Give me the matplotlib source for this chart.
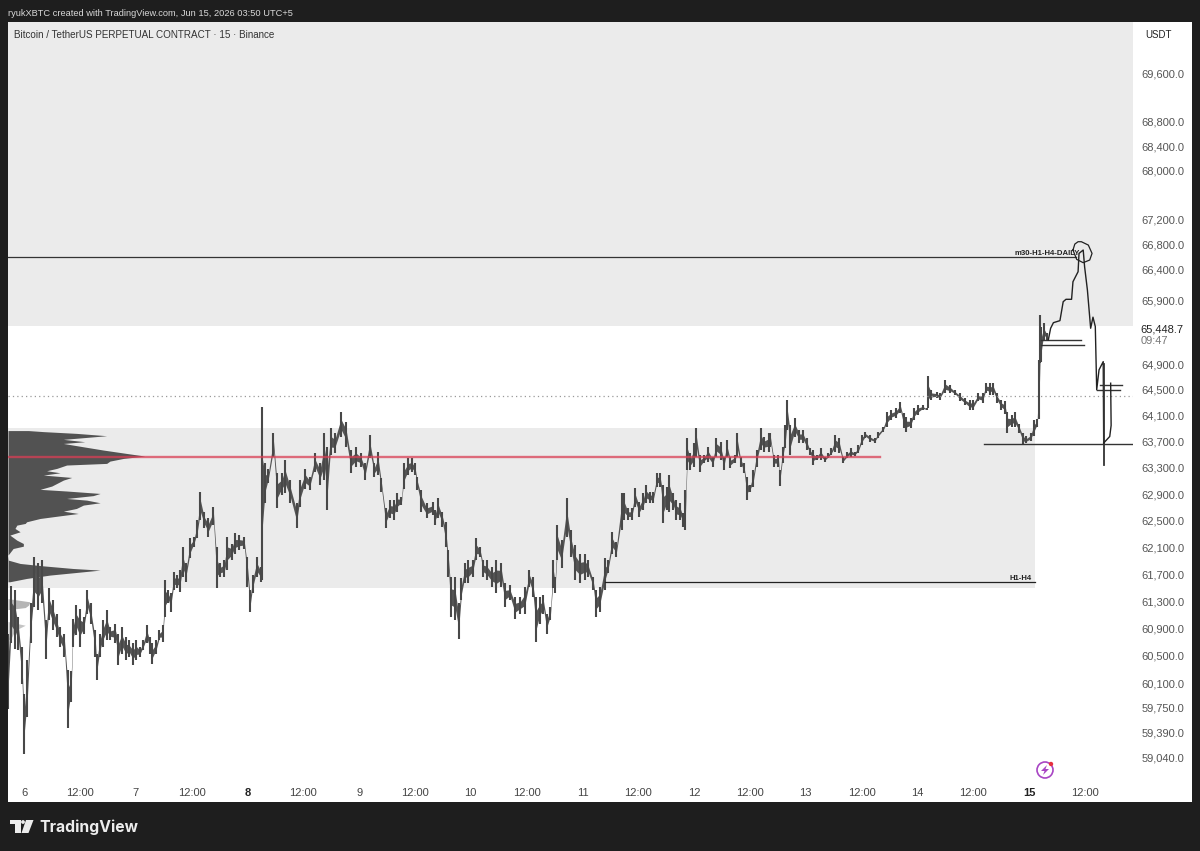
import matplotlib
matplotlib.use('Agg')
import matplotlib.pyplot as plt
from matplotlib.patches import Rectangle, Polygon, Circle
from matplotlib.ticker import NullLocator

plt.rcParams['font.family'] = ['Liberation Sans', 'DejaVu Sans']

# all times are hours after 00:00 on the 6th
bar_hour = [-3.4,-2.7,-1.9,-1.2,-0.5,0,0.7,1.4,2.2,3.1,3.8,4.7,5.3,6.2,7.0,7.7,8.7,9.5,10.1,10.5,11.2,12.0,12.8,13.6,14.3,15.3,15.6,16.3,17.0,17.8,18.5,19.6,20.3,21.0,21.9,22.6,23.4,24.1,24.9,25.6,26.4,27.1,27.6,28.4,29.1,29.8,30.3,31.0,31.5,32.2,32.8,33.5,34.1,34.8,35.7,36.5,37.2,37.9,38.7,39.6,40.7,41.4,42.1,43.0,43.6,44.6,45.3,46.3,47.3,48.0,48.6,49.1,50.0,50.9,51.2,51.8,52.5,53.6,54.4,55.4,56.1,57.2,58.6,59.3,
    60.4,61.4,62.5,63.6,64.5,65.2,65.9,66.8,68.1,69.2,70.2,71.3,72.4,73.3,74.3,75.3,76.1,76.8,77.7,78.6,79.5,80.2,81.1,81.6,82.6,83.3,84.0,84.5,85.4,86.5,87.8,88.3,89.0,89.9,90.6,91.2,91.7,92.6,93.4,94.0,94.7,95.5,96.4,97.2,98.0,98.7,99.4,100.5,101.5,102.6,103.3,104.4,105.5,106.6,107.6,108.6,109.3,110.1,110.8,111.6,112.3,113.1,113.7,114.1,114.6,115.5,116.6,117.5,118.4,119.4,120.5,121.2,122.3,122.9,123.7,124.8,125.5,126.4,127.3,
    128.4,128.9,129.8,130.6,131.3,132.2,133.1,133.6,134.5,135.2,136.0,136.7,137.4,138.1,138.7,139.5,140.2,141.0,141.7,142.1,142.5,143.2,144.0,144.5,145.2,146.1,147.0,148.0,148.8,149.7,150.4,151.0,151.8,152.8,153.3,154.0,154.7,155.3,156.0,156.7,157.4,158.3,159.0,160.0,160.4,161.1,162.1,162.4,163.0,163.6,164.0,164.7,165.6,166.6,167.4,168.2,168.9,169.6,170.3,171.2,172.1,172.8,173.5,174.3,175.2,176.0,176.9,177.6,178.5,179.3,180.0,180.8,181.8,182.8,183.5,184.6,185.5,186.4,187.3,188.3,189.0,189.6,190.5,191.2,192.1,193.1,194.0,194.3,195.0,196.1,196.8,197.9,199.0,200.0,
    201.1,202.2,203.2,204.0,205.0,206.0,206.7,207.5,208.3,209.1,210.0,210.8,211.3,212.2,212.9,213.8,214.7,215.4,216.3,217.0,217.7,218.1,218.4,218.6,219.1,219.9]
bar_high = [60820,61530,61465,61067,60625,59950,60430,61266,61958,61859,61908,61019,61490,61313,61116,60920,60820,60290,60270,61040,61240,61190,61067,61465,61266,60870,60530,60820,61019,61165,60920,60970,60820,60920,60772,60726,60680,60726,60625,60726,60945,60772,60680,60726,60870,60945,61612,61465,61417,61735,61686,61760,62107,61859,62232,62257,62508,62937,62633,62533,62709,62107,61859,61908,62257,62157,62307,62282,62257,61958,61465,61686,61958,61808,64240,63368,63290,63828,63216,63216,63420,63114,62759,63114,
    63290,63165,63520,63368,63828,63620,63905,63828,64163,64008,63572,63620,63520,63368,63803,63368,63546,63140,62684,62810,62810,62911,62860,63368,63444,63444,63368,63165,62960,62759,62785,62660,62835,62633,62483,62057,61661,61661,61266,61636,61859,61908,61908,62232,62107,61908,61908,61808,61908,61859,61562,61537,61365,61365,61512,61760,61661,61365,61365,61390,61116,61218,61908,61661,62433,62207,62835,62358,62132,62007,62007,61908,61661,61465,61512,61933,61908,62333,62182,
    62913,62913,62686,62686,62990,62787,62913,63040,62939,62939,63217,63217,63040,63015,63192,62913,62812,62762,62611,62964,63752,63522,63676,63906,63497,63497,63625,63471,63752,63701,63471,63727,63471,63497,63829,63471,63370,63167,63040,63268,63573,63906,63778,63829,63829,63497,63497,63268,63625,63957,64344,63957,64060,63880,63880,63752,63599,63573,63497,63599,63471,63522,63599,63804,63752,63471,63548,63599,63548,63650,63804,63855,63804,63752,63855,63932,64163,64189,64214,64308,64137,64085,64060,64214,64266,64266,64214,64722,64500,64473,64447,64656,64580,64500,
    64451,64373,64345,64345,64451,64451,64604,64604,64604,64451,64345,64320,64161,64108,64161,63978,63831,63780,63831,64030,64056,64967,65670,65491,65543,65386]
bar_low = [59730,60680,60600,60580,60090,59090,59610,60680,61218,61165,61266,60455,61019,60870,60772,60625,60480,59450,59830,60625,60800,60625,60820,61116,60970,60480,60140,60480,60625,60726,60726,60680,60360,60530,60430,60480,60360,60430,60480,60580,60680,60530,60385,60530,60726,60700,61067,61266,61140,61465,61490,61440,61661,61587,61933,62107,62232,62508,62383,62257,62433,61490,61661,61661,61760,61908,62007,62057,62082,61512,61140,61417,61661,61587,61612,62759,63063,63470,62684,62886,62911,62759,62383,62709,
    62985,62960,63240,63040,63114,62660,63495,63520,63775,63620,63216,63317,63317,63114,63444,63165,63190,62937,62383,62533,62508,62633,62735,62985,63190,63240,63190,62960,62633,62533,62583,62433,62533,62408,62107,61661,61067,61019,60750,61313,61562,61562,61661,61908,61958,61661,61612,61512,61417,61512,61218,61313,61040,61116,61116,61512,61365,60700,60970,61116,60820,61019,61490,61417,61908,61784,62257,61958,61612,61562,61612,61661,61465,61067,61140,61465,61710,62007,61958,
    62360,62510,62510,62510,62712,62561,62661,62762,62762,62762,63015,63015,62460,62661,62636,62661,62510,62510,62410,62360,63268,63268,63319,63471,63243,63370,63395,63319,63471,63420,63268,63471,63293,63370,63471,63319,63217,62812,62939,63015,63319,63573,63548,63548,63625,63319,63319,63020,63370,63599,63880,63497,63778,63676,63676,63573,63497,63344,63420,63420,63395,63446,63497,63548,63522,63370,63446,63471,63477,63522,63650,63752,63701,63686,63752,63855,63932,64035,64060,64137,63906,63855,63906,64035,64111,64189,64189,64214,64344,64370,64344,64447,64447,64421,
    64320,64268,64188,64188,64320,64294,64451,64424,64424,64294,64188,64134,63831,63926,63926,63831,63655,63680,63705,63780,63926,64056,64915,64941,65280,65280]

# hand drawn projection after the last candle
path_hour = [220.1,220.6,221.2,222.6,223.3,223.9,225.1,225.4,226.5,226.7,227.6,227.9,228.5,229.2,229.7,230.2,230.5,231.0,231.9,232.0]
path_price = [65280,65465,65553,65585,65885,65923,65923,66203,66363,66656,66710,66442,66072,65465,65640,65491,64501,64812,64941,63680]
drop_hour = [232.0,232.0]
drop_price = [64900,63348]
hook_hour = [232.0,233.3,233.6,233.5]
hook_price = [63680,63780,63950,64604]
circle_hour = [225.4,225.8,226.5,227.2,228.7,229.5,229.0,227.6,226.2,225.4]
circle_price = [66710,66806,66844,66844,66790,66656,66550,66507,66560,66710]

# volume profile, width measured in hours from the left edge
profile_price = [63871,63855,63828,63792,63766,63736,63700,63673,63622,63572,63520,63480,63444,63403,63368,63343,63292,63256,63225,63190,63154,63114,63063,63023,62973,62948,62911,62878,62835,62810,62770,62735,62684,62643,62608,62573,62533,62483,62458,62433,62383,62333,62283,62207,62157,62117,62082,61983,61908,61859,61823,61784,61760,61720,61686,61636,61587]
profile_width = [4.4,7.6,14.7,21.2,16.9,11.9,16.5,11.9,16.2,20.5,25.5,29.4,24.8,21.9,21.2,12.6,10.5,8.3,11.2,7.6,13.7,11.9,10.5,9.4,6.9,12.6,19.8,18.3,12.6,16.9,19.8,16.2,14.7,11.9,15.1,11.2,6.9,4.0,3.7,1.9,1.5,2.6,0.4,1.9,3.3,3.3,1.1,0,0.1,2.6,7.6,14.0,19.8,14.0,9.0,4.0,0.4]
profile2_price = [61337,61290,61240,61205,61175]
profile2_width = [0,4.7,4.4,3.7,0]
profile3_price = [61000,60945,60870,60772,60726]
profile3_width = [0,3.7,1.5,0.8,0]

price_ticks = [69600,68800,68400,68000,67200,66800,66400,65900,64900,64500,64100,63700,63300,62900,62500,62100,61700,61300,60900,60500,60100,59750,59390,59040]
last_price = 65448.7
countdown = '09:47'
time_ticks = list(range(0,240,12))
time_labels = ['6','12:00','7','12:00','8','12:00','9','12:00','10','12:00','11','12:00','12','12:00','13','12:00','14','12:00','15','12:00']
bold_labels = ['8','15']

W, H = 1200, 851
fig = plt.figure(figsize=(W/100, H/100), dpi=100, facecolor='#1e1e1e')
def fx(px): return px/W
def fy(py): return 1-py/H

fig.patches.append(Rectangle((fx(8), fy(802)), fx(1184), 780/H, transform=fig.transFigure, facecolor='white', edgecolor='none', zorder=-5))

ax = fig.add_axes([fx(8), fy(780), fx(1125), 758/H])
ax.patch.set_alpha(0)
ax.set_yscale('log')
ax.set_ylim(58715, 70477)
xmin, xmax = -3.44, 238.3
ax.set_xlim(xmin, xmax)
for s in ax.spines.values():
    s.set_visible(False)

# zones
zone = '#ebebeb'
ax.fill_between([xmin, xmax], 65501, 70477, color=zone, lw=0, zorder=1)
ax.fill_between([xmin, 217.2], 61490, 63905, color=zone, lw=0, zorder=1)

# profile
ax.fill_betweenx(profile_price, xmin, [xmin+w for w in profile_width], color='#525252', lw=0, zorder=2)
ax.fill_betweenx(profile2_price, xmin, [xmin+w for w in profile2_width], color='#b5b5b5', lw=0, zorder=2)
ax.fill_betweenx(profile3_price, xmin, [xmin+w for w in profile3_width], color='#c4c4c4', lw=0, zorder=2)

# candles: thin core joining the bars, full range as wicks
core_low = [lo + 0.3*(hi-lo) for hi, lo in zip(bar_high, bar_low)]
core_high = [hi - 0.3*(hi-lo) for hi, lo in zip(bar_high, bar_low)]
ax.fill_between(bar_hour, core_low, core_high, color='#555555', lw=0, zorder=3)
ax.vlines(bar_hour, bar_low, bar_high, color='#484848', lw=1.5, zorder=3)

# levels
ax.plot([xmin, xmax], [64412, 64412], color='#999999', lw=0.9, ls=(0, (1, 2.5)), zorder=3)
ax.plot([xmin, 226.0], [66603, 66603], color='#333333', lw=0.9, zorder=4)
ax.plot([206.3, xmax], [63660, 63660], color='#333333', lw=1.0, zorder=4)
ax.plot([124.8, 217.2], [61580, 61580], color='#222222', lw=0.9, zorder=4)
ax.plot([xmin, 183.9], [63470, 63470], color='#d93f55', lw=1.7, alpha=0.75, zorder=5)
ax.plot([218.5, 227.2], [65275, 65275], color='#333333', lw=1.0, zorder=4)
ax.plot([218.5, 227.7], [65205, 65205], color='#333333', lw=1.0, zorder=4)
ax.plot([231.2, 236.0], [64572, 64572], color='#333333', lw=1.0, zorder=4)
ax.plot([230.6, 235.5], [64506, 64506], color='#333333', lw=1.0, zorder=4)

# drawing
ax.plot(path_hour, path_price, color='#222222', lw=1.0, zorder=6)
ax.plot(drop_hour, drop_price, color='#333333', lw=1.3, zorder=6)
ax.plot(hook_hour, hook_price, color='#222222', lw=1.0, zorder=6)
ax.plot(circle_hour, circle_price, color='#222222', lw=0.9, zorder=6)

ax.text(219.8, 66660, 'm30-H1-H4-DAILY', fontsize=5.6, fontweight='bold', color='#222222', ha='center', va='center', zorder=7)
ax.text(214.1, 61640, 'H1-H4', fontsize=5.6, fontweight='bold', color='#222222', ha='center', va='center', zorder=7)

# axes
ax.yaxis.tick_right()
ax.set_yticks(price_ticks)
ax.set_yticklabels([f'{p:,.1f}' for p in price_ticks])
ax.yaxis.set_minor_locator(NullLocator())
ax.tick_params(axis='y', length=0, pad=6, labelsize=8, labelcolor='#555555')
ax.set_xticks(time_ticks)
ax.set_xticklabels(time_labels)
ax.tick_params(axis='x', length=0, pad=6, labelsize=8, labelcolor='#444444')
for lab in ax.get_xticklabels():
    if lab.get_text() in bold_labels:
        lab.set_fontweight('bold')
        lab.set_color('#222222')

# last price label
fig.text(fx(1183), fy(329.5), f'{last_price:,.1f}', fontsize=8, color='#222222', va='center', ha='right')
fig.text(fx(1141), fy(341), countdown, fontsize=8, color='#777777', ha='left', va='center')
fig.text(fx(1145), fy(35), 'USDT', fontsize=7, color='#222222', ha='left', va='center')

# headers
fig.text(fx(8), fy(14), 'ryukXBTC created with TradingView.com, Jun 15, 2026 03:50 UTC+5', fontsize=6.7, color='#d8d8d8', ha='left', va='center')
fig.text(fx(14), fy(35.5), 'Bitcoin / TetherUS PERPETUAL CONTRACT · 15 · Binance', fontsize=7.15, color='#333333', ha='left', va='center')

# lightning icon
fig.patches.append(Circle((1045, H-770), 8, transform=None, fill=False, edgecolor='#a845c4', lw=1.2, zorder=8))
fig.patches.append(Polygon([(1047, H-765), (1041, H-771), (1044.5, H-771), (1043, H-775), (1049, H-769), (1045.5, H-769)], transform=None, facecolor='#a845c4', edgecolor='none', zorder=8))
fig.patches.append(Circle((1051, H-764), 2.2, transform=None, facecolor='#e5303f', edgecolor='none', zorder=9))

# logo
logo = '#ececec'
fig.patches.append(Polygon([(10, H-820), (21, H-820), (21, H-833), (15, H-833), (15, H-824), (10, H-824)], transform=None, facecolor=logo, edgecolor='none'))
fig.patches.append(Circle((23, H-822), 1.9, transform=None, facecolor=logo, edgecolor='none'))
fig.patches.append(Polygon([(26, H-820), (33.5, H-820), (28.5, H-833), (21.5, H-833)], transform=None, facecolor=logo, edgecolor='none'))
fig.text(fx(39), fy(827), 'TradingView', fontsize=11.3, fontweight='bold', color=logo, ha='left', va='center', family=['Inter', 'Liberation Sans'])

fig.savefig('out.png', dpi=100, facecolor=fig.get_facecolor())
